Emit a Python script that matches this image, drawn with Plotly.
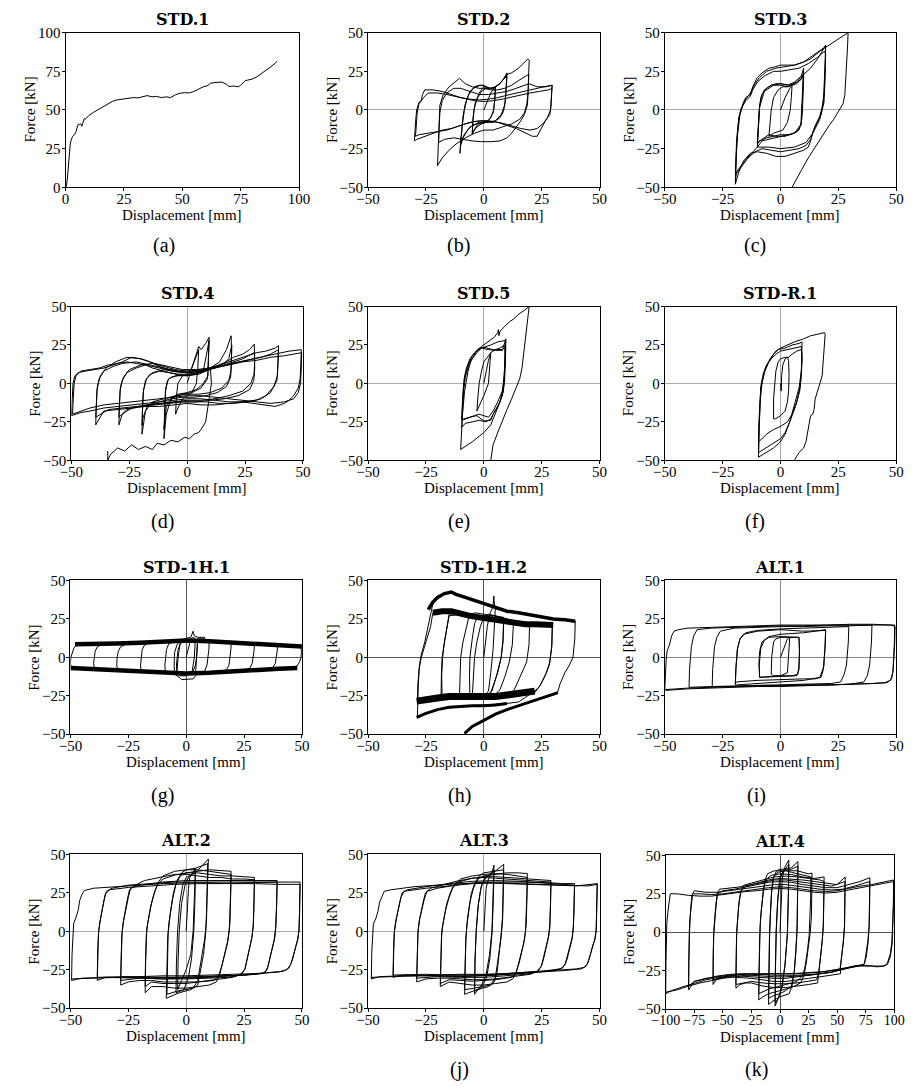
import plotly.graph_objects as go

W, H = 916, 1091

# ---------------- data (displacement [mm], force [kN]) ----------------
std1 = [(0,0),(0.4,1),(0.8,6),(1.2,14),(1.6,22),(2.0,28),(2.5,31),(3,33),(4,34.5),(4.5,36),(5,39),(5.5,41),
        (6,40.5),(6.5,41),(7,39.5),(7.5,43),(8,44.5),(8.5,44),(9,45),(10,46.5),(12,48.5),(15,51),(18,53.5),
        (20,55.5),(22,56.5),(25,57),(27,57.5),(29,58),(31,57.8),(33,58.8),(35,59.3),(37,58.5),(39,58.8),
        (41,58),(43,58.5),(45,58),(47,59.8),(49,60.8),(51,61.2),(53,61),(55,62),(57,63.5),(59,65),(61,65.8),
        (62,67.2),(64,67.8),(66,68.2),(67,68),(69,66.5),(70,65.2),(72,65.5),(74,65),(75,66),(77,69),(78,69.3),
        (80,70),(82,71.5),(85,74.5),(88,78),(90,80.5),(90.5,81.5)]

std2 = [(0,0),(1.5,6),(3,11),(4.5,14),(5,15),(4.8,8),(4.3,0),(3,-5),(1,-8),(-1,-9),(-3,-11),(-4.5,-14),(-5,-16),
        (-4.8,-8),(-4.3,0),(-3,7),(-1,12),(1,14),(3,14),(5,15),(4.7,6),(4,-2),(2,-7),(-1,-8),(-3,-10),(-5,-15),
        (-4.6,-5),(-3.8,4),(-2,11),(0,15),(2,14),(4,14),(5,15),
        (7,17),(8.5,20),(10,24),(9.7,16),(9.3,6),(8.5,-1),(7,-5),(4,-8),(1,-8),(-2,-8),(-5,-10),(-7,-13),(-9,-18),
        (-10,-23),(-10.3,-28),(-10,-20),(-9.3,-10),(-8.5,-1),(-7.5,6),(-6,12),(-4,15),(-2,16),(0,16),(2,14),(4,14),
        (6,16),(8,19),(10,22),(9.6,12),(9,3),(7.5,-3),(5,-7),(1,-8),(-3,-9),(-6,-11),(-8.5,-16),(-10,-22),
        (-9.6,-13),(-9,-4),(-8,4),(-6.5,10),(-4.5,14),(-1.5,16),(1,15),(3,14),(5,15),(7,17),(10,23),
        (12,24),(15,27),(17,30),(19,33),(19.6,32),(19.4,22),(19.1,12),(18.6,4),(17.5,-2),(15.5,-6),(12,-9),(8,-11),
        (4,-13),(0,-13),(-4,-15),(-8,-18),(-12,-22),(-15,-26),(-18,-31),(-20,-36),(-19.8,-28),(-19.6,-18),
        (-19.4,-6),(-19,3),(-17.5,10),(-15,15),(-12.5,18),(-10.5,20.5),(-8,17),(-5,15),(-2,14),(0,14),(3,13),
        (6,13),(9,14),(12,16),(15,19),(18,22),(19.4,23),(19.2,12),(18.8,3),(17.5,-3),(16,-7),(14,-11),(12,-15),
        (10,-18),(7,-20),(3,-20.5),(-1,-20.5),(-5,-20),(-9,-19),(-13,-18),(-17,-19),(-19.5,-21),(-19.3,-12),
        (-19,-2),(-18,6),(-16,11),(-13,14),(-10,14),(-6,12),(-2,10),(2,10),(6,11),(10,12),(14,14),(18,16),
        (19.5,17),(23,15),(27,15),(29.5,16),(29.3,9),(29,2),(28.5,-3),(27,-6),(25.5,-10),(24,-14),(23,-17),
        (21,-17),(18,-15),(14,-12),(10,-10),(6,-8),(2,-7),(-2,-7),(-6,-8),(-10,-10),(-14,-12),(-18,-13),(-22,-15),
        (-26,-17),(-29,-19),(-30,-20),(-29.8,-14),(-29.4,-6),(-29,0),(-28,5),(-27,6),(-26.5,10),(-25.5,13),
        (-22,13),(-18,12),(-14,10),(-10,8),(-6,7),(-2,6.5),(2,7),(6,8),(10,9.5),(14,11),(18,12.5),(22,14),
        (26,15),(29.5,16),(29.3,8),(28.8,0),(27.5,-5),(25.5,-9),(23,-12),(20,-13),(16,-12),(12,-10),(8,-8.5),
        (4,-7.5),(0,-7),(-4,-7.5),(-8,-9),(-12,-11),(-16,-13),(-20,-14),(-24,-15),(-28,-16),(-29.5,-17),
        (-29.3,-10),(-28.8,-2),(-28,4),(-26,8),(-24,11),(-20,11),(-16,10),(-12,8.5),(-8,7),(-4,6),(0,5.5),(4,6),
        (8,7),(12,8.5),(16,10),(20,11),(24,12),(28,13),(29.5,14)]

std3 = [(0,0),(2,8),(4,14),(5,16),(4.7,8),(4.2,0),(3,-8),(1,-13),(-1,-14),(-3,-15),(-5,-17),(-4.6,-8),(-4,0),
        (-3,8),(-1,13),(1,15),(3,15),(5,16),(7,17),(9,20),(10,22),(9.7,10),(9.5,0),(9,-8),(8,-13),(6,-15),(3,-16),
        (0,-17),(-3,-18),(-6,-19),(-8,-20),(-10,-24),(-9.7,-15),(-9.5,-5),(-9,3),(-8,10),(-6,14),(-4,16),(-2,17),
        (0,17),(3,16),(6,18),(9,22),(10,27),(9.6,15),(9.3,0),(8.8,-10),(7,-14),(4,-16),(0,-16),(-3,-17),(-6,-18),
        (-9,-20),(-10,-22),(-9.5,-10),(-9.2,0),(-8.5,8),(-7,13),(-4,16),(0,16),(3,15),(6,17),(9,20),(10,24),
        (9.5,5),(9,-9),(6,-15),(2,-17),(-2,-17),(-5,-16),(-8,-19),(-10,-21),(-9.5,-8),(-9,2),(-7,12),(-3,16),
        (0,17),(4,16),(7,18),(10,23),
        (13,27),(16,33),(18,38),(19.5,42),(19.3,30),(19,15),(18.5,5),(17.5,-3),(16,-8),(14,-14),(13,-20),
        (12,-24),(10,-26),(6,-28),(2,-30),(-2,-30),(-6,-28),(-10,-27),(-13,-28),(-16,-33),(-18,-40),(-19.5,-48),
        (-19.3,-35),(-19,-20),(-18,-5),(-17,0),(-16,5),(-15,8),(-13,10),(-12,15),(-11,18),(-10,21),(-8,24),
        (-5,27),(-2,28),(0,29),(3,29),(6,29),(10,31),(14,35),(18,39),(19.5,41),(19.3,28),(19,12),(18,2),(17,-4),
        (15,-10),(13,-19),(11,-23),(8,-25),(4,-26),(0,-27),(-4,-26),(-8,-25),(-11,-27),(-14,-31),(-17,-37),
        (-19.5,-42),(-19.2,-30),(-18.5,-15),(-17.5,-3),(-16.5,2),(-15,6),(-13,9),(-12,13),(-10,18),(-7,22),
        (-3,25),(0,25),(4,26),(8,27),(12,30),(16,34),(19,38),(19.5,36),(19.2,20),(18.8,5),(17,-6),(14,-15),
        (11,-21),(6,-24),(0,-25),(-5,-24),(-10,-24),(-15,-32),(-19,-40),(-19.5,-46),(-19.2,-35),(-18.8,-20),
        (-18,-5),(-17,1),(-15,7),(-13,11),(-11,17),(-9,21),(-6,25),(-2,27),(2,28),(6,29),(10,31),(13,33),
        (17,38),(21,42),(25,46),(29.2,50),(29,42),(28.5,25),(27.8,10),(27,4),(25,-1),(23,-6),(21,-10),(18,-17),
        (15,-24),(12,-31),(9,-39),(7,-45),(5,-50)]

std4 = [(0,0),(2,10),(4,18),(5,22),(4.6,10),(4,0),(2,-6),(0,-8),(-2,-10),(-4,-16),(-5,-20),(-4.6,-8),(-4,0),
        (-2,5),(0,6),(2,10),(4,20),(5,24),
        (6,22),(8,26),(9.5,30),(9.3,15),(9,5),(7,0),(4,-4),(0,-6),(-4,-7),(-7,-10),(-9,-20),(-10,-36),(-9.7,-20),
        (-9.4,-5),(-8.5,2),(-7,4),(-4,5),(0,5),(4,6),(7,8),(9.5,28),(9.2,12),(8.8,3),(6,-3),(2,-6),(-2,-7),
        (-6,-9),(-9,-15),(-10,-30),(-9.6,-15),(-9.2,-3),(-8,3),(-5,5),(0,5.5),(4,6.5),(8,8),(10,10),
        (14,14),(17,22),(19,31),(19.2,20),(18.9,8),(18,2),(15,-3),(10,-6),(5,-7),(0,-7),(-5,-8),(-10,-10),
        (-15,-12),(-18,-18),(-19,-28),(-19.5,-33),(-19.3,-18),(-19,-6),(-18,2),(-16,6),(-12,8),(-8,7),(-4,6),
        (0,6),(5,7),(10,9),(15,12),(18,16),(19.3,25),(19.1,12),(18.8,4),(17,-2),(13,-6),(8,-8),(3,-9),(-2,-9),
        (-7,-10),(-12,-12),(-17,-14),(-19,-22),(-19.5,-27),(-19.2,-14),(-18.8,-4),(-17.5,3),(-15,7),(-10,9),
        (-5,7.5),(0,7),(6,8),(12,11),(17,14),(20,17),
        (24,19),(27,22),(29,25.5),(29.2,15),(28.9,6),(27.5,0),(24,-5),(18,-8),(12,-10),(6,-11),(0,-11),(-6,-12),
        (-12,-13),(-18,-14),(-24,-16),(-28,-20),(-29.5,-27),(-29.3,-15),(-29,-5),(-28,2),(-26,7),(-22,10),
        (-18,12),(-12,10),(-6,8),(0,7),(6,8),(12,10),(18,13),(24,16),(29,20),(29.2,10),(28.8,2),(27,-4),(22,-8),
        (16,-10),(10,-11),(4,-12),(-2,-12),(-8,-13),(-14,-14),(-20,-15),(-26,-17),(-29.5,-22),(-29.2,-12),
        (-28.8,-2),(-27.5,4),(-25,9),(-20,12),(-15,13),(-10,11),(-5,9),(0,8),(6,9),(12,11),(18,14),(24,17),(30,20),
        (34,21),(38,23),(39.5,24.5),(39.3,15),(39,5),(37.5,-2),(34,-8),(30,-11),(24,-12),(18,-13),(12,-14),
        (6,-14),(0,-13),(-6,-14),(-12,-15),(-18,-15),(-24,-16),(-30,-17),(-36,-18),(-39.5,-27),(-39.3,-15),
        (-39,-5),(-38,3),(-36,8),(-32,11),(-28,13),(-22,14),(-16,12),(-10,10),(-4,8),(2,8),(8,9),(14,11),(20,13),
        (26,15),(32,17),(36,19),(39.5,22),(39.2,12),(38.8,2),(36,-6),(32,-10),(26,-12),(20,-13),(14,-13),
        (8,-12),(2,-12),(-4,-12),(-10,-13),(-16,-14),(-22,-15),(-28,-16),(-34,-17),(-39.5,-22),(-39.2,-12),
        (-38.8,-2),(-37.5,5),(-35,10),(-31,14),(-26,17),(-20,16),(-14,13),(-8,11),(-2,9),(4,9),(10,10),(16,12),
        (22,14),(28,16),(34,18),(40,20),
        (44,21),(47,21.5),(49.3,22),(49.1,12),(48.8,3),(48,-3),(46,-8),(44,-11),(42,-13),(38,-15),(34,-14),
        (30,-13),(24,-12),(18,-12),(12,-11),(6,-10),(0,-10),(-6,-11),(-12,-12),(-18,-13),(-24,-14),(-30,-15),
        (-36,-16),(-42,-18),(-46,-19),(-50,-21),(-49.7,-10),(-49.3,0),(-48.5,5),(-47,7),(-44,8),(-40,9),(-36,10),
        (-32,12),(-28,14),(-24,17),(-20,16),(-16,14),(-12,11),(-8,9),(-4,8),(0,7),(6,8),(12,10),(18,12),(24,14),
        (30,15),(36,17),(42,18),(46,19),(49.5,20),(49.3,10),(49,0),(48,-6),(46,-10),(42,-12),(36,-13),(30,-12),
        (24,-11),(18,-10),(12,-9),(6,-8),(0,-8),(-6,-9),(-12,-10),(-18,-11),(-24,-12),(-30,-13),(-36,-14),
        (-42,-16),(-46,-18),(-49.5,-20),(-49.2,-10),(-48.8,0),(-48,5),(-46,8),(-42,9),
        (-38,10),(-34,12),(-30,13),(-26,14),(-22,13),(-18,12),(-15,10),(-10,8),(-5,6),(0,5),(5,6),(8,8),(10,10),
        (10.5,0),(9,-15),(8,-25),(6,-30),(5,-32),(3,-33),(1,-36),(-1,-35),(-4,-38),(-7,-37),(-10,-40),(-13,-39),
        (-15,-43),(-18,-41),(-21,-43),(-24,-40),(-27,-44),(-30,-42),(-33,-46),(-34.3,-50)]
std4_tail = [(-34.3,-50),(-34.3,-44)]

std5 = [(0,0),(1,8),(2,15),(3,20),(2.5,10),(2,0),(0,-8),(-2,-14),(-3,-18),(-2.5,-8),(-2,0),(-1,8),(0,14),(2,18),
        (3,20),(5,22),(7,23),(9,25),(9.2,15),(8.8,5),(8,-5),(6,-12),(4,-18),(2,-22),(0,-21),(-2,-20),(-4,-21),
        (-6,-22),(-8,-23),(-9.5,-24),(-9.3,-15),(-9,-5),(-8.5,3),(-7.5,10),(-6,16),(-4,20),(-2,23),(0,23.5),
        (2,22.5),(4,22),(6,22),(8,22),(9.5,24),(9.3,12),(9,2),(8,-8),(6,-15),(4,-20),(3,-24),(0,-24.5),(-3,-21),
        (-5,-21.5),(-7,-22.5),(-9.5,-23.5),(-9.2,-12),(-8.8,-2),(-8,6),(-6.5,13),(-5,18),(-3,21),(-1,23),(2,22),
        (5,21.5),(8,21.5),(9.5,29),(9.3,20),(9,5),(8.5,-5),(7,-12),(5,-18),(3,-23),(1,-25),(-2,-24),(-5,-25),
        (-8,-26),(-9.5,-28.5),(-9.2,-18),(-8.8,-6),(-8,4),(-6.5,12),(-5,16),(-3,20),(-1,23),(1,24),(3,25),
        (6,27),(9.5,28),(9.2,15),(8.8,0),(7,-12),(5,-20),(3,-27),(0,-32),(-5,-38),(-10,-43),(-9.6,-30),
        (-9.2,-20),(-8.3,-5),(-6.8,8),(-5.5,15),(-3.5,20),(-1,24),(2,27),(4.5,30),(6,33),(6.3,35),(6.5,31),
        (7,34),(9,37),(11,40),(13,42),(15,45),(17,47),(19,49.5),(19.6,50),(19.2,45),(18.5,35),(17.5,20),
        (16.5,10),(15.5,3),(14,-3),(12,-10),(10,-17),(8,-24),(6,-32),(4,-40),(3,-50)]

stdr1 = [(0,0),(0.3,-5),(0.5,5),(1,12),(2,16),(3,17),(3.5,15),(3.7,5),(3.5,-5),(3,-12),(2,-18),(0,-21),(-2,-23),
         (-3,-23),(-3,-10),(-2.5,0),(-2,8),(-1,14),(0,16),(2,17),(3.5,17),(5,19),(7,21),(9,22),(9.3,18),(9,8),
         (8.5,-2),(7,-12),(5,-20),(3,-25),(0,-28),(-3,-30),(-6,-33),(-8,-36),(-9.5,-38),(-9.3,-25),(-9,-12),
         (-8.5,-2),(-7.5,6),(-6,12),(-4,16),(-2,19),(0,21),(3,22),(6,23),(9,24),(9.3,15),(9,5),(8.3,-5),
         (6.5,-15),(4,-25),(2,-32),(0,-36),(-3,-39),(-6,-42),(-8,-44),(-9.5,-45),(-9.3,-30),(-9,-15),(-8.5,-3),
         (-7,7),(-5,14),(-3,19),(-1,22),(2,23),(5,25),(8,26),(9.3,27),(9.2,18),(9,8),(8,-3),(6,-15),(4,-25),
         (2,-33),(0,-38),(-3,-42),(-6,-45),(-9.5,-48),(-9.2,-30),(-8.8,-12),(-8,0),(-6.5,10),(-4.5,16),(-2,21),
         (0,23),(3,25),(6,27),(10,29),(13,31),(16,32),(19,33),(19.3,32),(19,25),(18.5,15),(18,5),(17,0),(16,-5),
         (15,-10),(14.5,-17),(14,-20),(13,-21),(12.5,-25),(12,-30),(11,-38),(10,-42),(8,-45),(6,-50)]

std1h1_top = [(-48,8.5),(-44,8.5),(-38,8.5),(-30,9),(-20,9.5),(-10,10.5),(0,11),(10,10.5),(20,9.5),(30,8.5),
              (40,7.5),(50,7)]
std1h1_bot = [(-50,-7),(-44,-7.5),(-38,-8),(-30,-8.5),(-20,-9),(-10,-10),(0,-10.5),(10,-10),(20,-9),(30,-8.5),
              (40,-7.5),(48,-7)]
std1h1 = [(0,0),(1,6),(2,12),(3,13),(4,12),(3.5,0),(2.5,-10),(0,-12),(-3,-12),(-4,-10),(-3.5,0),(-2.5,10),(-1,12),
          (2,13),(3,17),(3.5,14),(5,13),(8,13),(8,12),(5,12),(4.5,0),(4,-12),(3,-14),(-2,-14.5),(-3,-13),(-5,-11),
          (-5.2,-5),(-5,3),(-4,8),(-2.5,11),(0,11),(3,11),(5,12),(4.8,5),(4.5,0),(4,-5),(3,-9),(0,-10),(-3,-10),
          (-4,-10),(-4.2,-5),(-4,0),(-3.5,5),(-2.5,9),(0,11),(3,11),(8,11),(10,11),(9.8,5),(9.5,0),(9,-5),(8,-9),
          (5,-10),(0,-10.5),(-5,-10),(-9,-10),(-9.2,-5),(-9,0),(-8.5,5),(-7.5,9),(-5,10),(0,11),(5,11),(10,10.5),
          (15,10),(19.5,10),(19.3,5),(19,0),(18.5,-5),(17.5,-8),(15,-9.5),(10,-10),(5,-10.5),(0,-10.5),(-5,-10),
          (-10,-10),(-15,-9.5),(-19.5,-9),(-19.7,-5),(-19.5,0),(-19,5),(-18,8),(-16,9.5),(-10,10),(0,11),
          (10,10.5),(20,9.5),(25,9),(29.5,8.5),(29.3,4),(29,0),(28.5,-4),(27.5,-7),(25,-8.5),(20,-9),(10,-10),
          (0,-10.5),(-10,-10),(-20,-9),(-29.5,-8.5),(-30,-5),(-29.8,0),(-29.3,4),(-28.3,7),(-26,8.5),(-20,9),
          (-10,10),(0,11),(10,10.5),(20,9.5),(30,8.5),(35,8),(39.5,7.5),(39.3,4),(39,0),(38.5,-4),(37.5,-6.5),
          (35,-7.5),(30,-8),(20,-9),(10,-10),(0,-10.5),(-10,-10),(-20,-9),(-30,-8.5),(-39.5,-8),(-40,-4),
          (-39.8,0),(-39.3,4),(-38.3,7),(-36,8.5),(-30,9),(-20,9.5),(-10,10.5),(0,11),(10,10.5),(20,9.5),(30,8.5),
          (40,7.5),(45,7),(49.5,7),(49.8,4),(49.6,0),(49,-3),(48,-5.5),(46,-6.5),(40,-7.5),(30,-8),(20,-9),
          (10,-10),(0,-10.5),(-10,-10),(-20,-9),(-30,-8.5),(-40,-8),(-49.5,-7),(-50,-4),(-49.8,0),(-49.3,3),
          (-48.5,6),(-47.5,8)]

std1h2_top1 = [(-24,31),(-22,36),(-20,39),(-17,41.5),(-14,42.5),(-12,41),(-8,39),(-4,37),(0,35),(5,32),(10,30),
               (15,29),(20,27.5),(25,26),(30,25),(35,24.5),(39.5,23.5)]
std1h2_top2 = [(-22,29),(-18,30),(-14,30),(-10,28),(-6,27),(-2,26),(2,25),(6,24),(10,23),(14,22),(18,21.5),
               (22,21.5),(26,21),(30,21)]
std1h2_bot1 = [(-29,-28.5),(-25,-28),(-20,-26.5),(-15,-25.5),(-10,-25.5),(-5,-26),(0,-26),(5,-25.5),(10,-24.5),
               (15,-23.5),(20,-22.5),(22,-22)]
std1h2_bot2 = [(-29,-39),(-25,-36.5),(-20,-34),(-15,-32.5),(-10,-32),(-5,-31.5),(0,-31.5),(5,-31),(10,-30)]
std1h2_bot3 = [(-8.3,-49.5),(-5,-45),(0,-41),(5,-37),(10,-34),(15,-31.5),(20,-29),(25,-27),(30,-24.5),(32,-23)]
std1h2 = [(0,0),(0.8,10),(1.5,20),(2.5,28),(4,33),(4.3,40),(4.6,34),(5,33),(4.5,20),(4,5),(3,-10),(2,-22),
          (0,-25),(-3,-26),(-5,-26),(-4.5,-10),(-4,0),(-3,10),(-1.5,20),(0,26),(2,28),(5,27),(8.6,25),(8.3,10),
          (7.5,0),(6,-10),(4,-18),(3,-23),(0,-25),(-5,-25.5),(-10.5,-25),(-10.3,-12),(-10,0),(-9,10),(-7.5,20),
          (-6.5,26),(-4,29),(0,28),(4,27),(8.6,26),(8.3,12),(7.5,0),(5.5,-12),(3.5,-22),(0,-26),(-6,-26),
          (-6.2,-12),(-6,0),(-5,12),(-4,22),(-2.5,27),(5,27),(10,25),(15,23),(19.8,22),(19.5,8),(18.5,-3),
          (16,-12),(13.5,-20),(12,-24),(5,-25),(0,-25.5),(-5,-25),(-10,-25),(-15,-26),(-18.5,-26),(-18.3,-10),
          (-18,0),(-17,10),(-16,20),(-15,28),(-12,29),(-6,27),(0,26),(6,24),(12.8,22),(12.3,8),(11,-3),(9,-13),
          (7,-21),(5,-24),(0,-25),(-10,-25),(-18,-25),(-18.2,-12),(-17.8,0),(-17,10),(-16,19),(-15,27),(-10,28),
          (0,26),(10,23),(20,22),(29.6,21),(29.4,8),(28.5,-3),(27,-10),(24.5,-18),(22,-23),(15,-23),(10,-24),
          (0,-25.5),(-10,-25),(-20,-26),(-28,-29),(-28.7,-30),(-28.5,-18),(-28,-8),(-27,0),(-26,5),(-24.5,12),
          (-23,20),(-22,29),(-20,31),(-15,30),(-10,28),(0,26),(10,23),(20,22),(29.6,22),(29.3,6),(28.3,-5),
          (26.5,-12),(24,-19),(22,-22),(15,-29),(10,-30),(0,-31),(-10,-32),(-15,-32.5),(-20,-34),(-25,-36.5),
          (-28.7,-39.5),(-28.6,-30),(-28.3,-18),(-27.8,-5),(-27,2),(-25.5,10),(-24,20),(-23,28),(-22,35),
          (-20,39),(-17,41.5),(-14,42.5),(-12,41),(-5,37.5),(0,35),(10,30),(20,27.5),(30,25),(39.5,23.5),
          (39.3,12),(38.5,0),(37,-5),(35,-10),(33,-17),(32,-22),(31,-24),(30,-24.5),(20,-29),(10,-34),(5,-37),
          (0,-41),(-5,-45),(-8.3,-49.5)]

alt1 = [(0,0),(2,8),(3,12),(4,13),(3.5,0),(3,-10),(0,-12),(-3,-12),(-4,-11),(-3.8,0),(-3,10),(-2,12),(0,13),(4,13),
        (6,13),(8,13),(8.2,5),(8,-5),(7.5,-11),(5,-12),(0,-12),(-5,-12.5),(-9,-13),(-9.2,-5),(-9,0),(-8.5,6),
        (-7,11),(-5,13),(0,13.5),(5,13),(8,13),(8.2,3),(8,-8),(7,-12),(0,-12.5),(-9,-13),(-9.3,-4),(-9,4),(-8,10),
        (-5,13.5),(0,15),(10,16),(15,17),(19.5,18),(19.3,8),(19,0),(18.5,-8),(17.5,-13),(15,-14),(10,-14),
        (0,-14.5),(-10,-15),(-19,-16),(-19.5,-17),(-19.3,-8),(-19,0),(-18.5,6),(-17.5,12),(-16,15),(-10,17),
        (0,18),(10,17),(19.5,17.5),(19.2,5),(18.7,-6),(17,-13),(10,-15),(0,-16),(-10,-17),(-19.5,-18),(-19.2,-6),
        (-18.7,5),(-17.5,12),(-15,16),(-10,17.5),(0,18.5),(10,19),(20,19.5),(29.5,20),(29.3,10),(29,2),
        (28.5,-5),(27.5,-11),(26,-16),(22,-17),(10,-17.5),(0,-18),(-10,-18),(-20,-18.5),(-29.5,-19),(-29.3,-8),
        (-29,0),(-28.5,7),(-27.5,13),(-26,17),(-20,19),(-10,19.5),(0,20),(10,20),(20,20.5),(30,20.5),(39.5,21),
        (39.3,10),(39,2),(38.5,-5),(37.5,-12),(36,-16),(30,-17.5),(20,-18),(10,-18),(0,-18.5),(-10,-18.5),
        (-20,-19),(-30,-19),(-39.5,-19.5),(-39.3,-8),(-39,0),(-38.5,7),(-37.5,14),(-36,18),(-30,19),(-20,19.5),
        (-10,20),(0,20.5),(10,20.5),(20,21),(30,21),(40,21),(49.3,21),(49.2,10),(49,0),(48.7,-8),(48,-14),
        (46,-16.5),(40,-17),(30,-17.5),(20,-18),(10,-18),(0,-18.5),(-10,-18.5),(-20,-19),(-30,-19.5),(-40,-20),
        (-50,-21),(-49.7,-10),(-49.4,-2),(-49,4),(-48,8),(-47,14),(-46,17),(-44,18),(-40,19),(-30,19.5),
        (-20,20),(-10,20.5),(0,21),(10,21),(20,21),(30,21.5),(40,21.5),(48,21),(49.5,20),(49.3,8),(49,-2),
        (48.5,-10),(47.5,-15),(45,-16.5),(40,-17),(30,-17.5),(20,-18),(10,-18.5),(0,-19),(-10,-19),(-20,-19.5),
        (-30,-20),(-40,-20.5),(-49.5,-21.5)]

alt2 = [(0,0),(0.5,15),(1,28),(1.5,35),(3,38),(4,41),(3.6,20),(3,0),(2,-15),(0,-25),(-2,-32),(-3.7,-38),
        (-3.5,-20),(-3,0),(-2,18),(-0.5,30),(1,35),(4,40),(3.8,20),(3.3,0),(2.3,-18),(1,-30),(-1,-38),(-4.4,-40),
        (-4.2,-20),(-3.7,0),(-2.8,18),(-1.5,30),(0,35),(4,38),(9.6,47),(9.3,30),(9,10),(8.5,0),(7.5,-15),(6,-28),
        (5,-35),(2,-38),(-3,-40),(-8.6,-43.6),(-8.3,-25),(-8,-5),(-7.5,5),(-6.5,15),(-5.5,25),(-4,33),(-2,38),
        (0,40),(4,41),(9.3,44),(9.1,28),(8.8,8),(8,-5),(6.5,-20),(5,-32),(3,-37),(0,-38),(-4,-39),(-8.3,-41),
        (-8.1,-20),(-7.8,-2),(-7,10),(-6,20),(-4.5,30),(-2.5,36),(0,38),(5,39),(10,40),(15,39.5),(19.4,39),
        (19.2,25),(19,8),(18.6,0),(17.8,-8),(16.5,-15),(15.5,-22),(14.5,-28),(13,-33),(10,-35),(5,-36),(0,-37),
        (-5,-37),(-10,-36),(-15,-36),(-17.7,-40),(-17.6,-22),(-17.3,-5),(-17,2),(-16,10),(-15,18),(-13.5,26),
        (-12,32),(-10,36),(-5,39),(0,40),(5,40),(10,39),(15,38),(19.4,37),(19.2,22),(18.9,5),(18,-6),(16.8,-14),
        (15.5,-22),(14,-29),(12,-32),(5,-33),(0,-34),(-5,-34),(-10,-34),(-15,-33),(-17.7,-36),(-17.5,-18),
        (-17.2,-2),(-16.5,6),(-15.5,15),(-14,24),(-12.5,30),(-10,34),(-5,36.5),(0,38),(5,38),(10,37),(15,36),
        (20,36),(25,35.5),(29.5,35),(29.3,20),(29,5),(28.5,-3),(27.5,-10),(26.5,-17),(25.5,-24),(24,-28),
        (20,-30),(15,-31),(10,-32),(5,-33),(0,-33),(-5,-33),(-10,-33),(-15,-32),(-20,-32),(-25,-33),(-28.3,-35),
        (-28.1,-18),(-27.8,-3),(-27.3,5),(-26.5,13),(-25.5,20),(-24.5,27),(-22,30),(-18,33),(-12,35),(-5,37),
        (0,37),(5,36),(10,35),(15,35),(20,34),(25,34),(29.5,33.5),(29.3,18),(29,3),(28.3,-5),(27.3,-12),
        (26.3,-19),(25.3,-25),(23,-28.5),(18,-30),(10,-30.5),(0,-31),(-10,-31),(-20,-30.5),(-28.3,-32),
        (-28.1,-15),(-27.7,-1),(-27,7),(-26,15),(-25,22),(-24,28),(-20,30),(-10,32),(0,33),(10,33),(20,33),
        (30,33),(35,33),(39.3,33),(39.1,18),(38.8,4),(38.3,-4),(37.3,-11),(36.3,-18),(35.3,-23),(34,-27),
        (30,-28),(20,-29),(10,-30),(0,-30.5),(-10,-31),(-20,-30.5),(-30,-30),(-35,-30),(-38.4,-32),(-38.2,-15),
        (-37.9,-2),(-37.3,6),(-36.5,13),(-35.5,20),(-34.5,26),(-32,28),(-25,30),(-15,31),(-5,32),(5,32),(15,32),
        (25,32),(35,32),(39.3,32),(39,15),(38.6,2),(38,-6),(37,-13),(36,-20),(35,-25),(33,-27.5),(25,-28.5),
        (15,-29),(5,-30),(-5,-30),(-15,-30),(-25,-29.5),(-38.4,-30),(-38.2,-12),(-37.8,0),(-37,8),(-36,16),
        (-35,24),(-33,27),(-25,28.5),(-15,29.5),(-5,30.5),(5,31),(15,31),(25,31.5),(35,32),(40,32),(45,32),
        (49.2,32),(49,15),(48.8,2),(48.3,-5),(47.3,-10),(46.3,-16),(45.3,-21),(44.3,-24),(42,-26),(35,-27),
        (25,-28.5),(15,-29),(5,-29.5),(-5,-30),(-15,-30),(-25,-30),(-35,-30),(-45,-30.5),(-49.5,-32),
        (-49.3,-15),(-49,-2),(-48.6,5),(-47.6,9),(-46.6,14),(-46,20),(-45,24),(-44,26.5),(-40,28),(-30,29),
        (-20,30),(-10,31),(0,31.5),(10,31.5),(20,31),(30,31),(40,30.5),(49.2,30.5),(49,12),(48.7,0),(48,-6),
        (47,-12),(46,-18),(45,-22),(43.5,-25),(40,-26.5),(30,-27.5),(20,-28),(10,-28.5),(0,-29),(-10,-29),
        (-20,-29.5),(-30,-30),(-40,-30.5),(-49.5,-31)]

alt3 = [(0,0),(0.5,15),(1,28),(2,34),(3.5,38),(4.4,43),(4.1,22),(3.5,0),(2.5,-15),(1,-28),(-1,-35),(-4,-41),
        (-3.8,-20),(-3.3,0),(-2.3,18),(-1,30),(1,35),(4.4,40),(4.1,20),(3.6,0),(2.6,-18),(1.2,-30),(-1,-37),
        (-4,-39),(-3.8,-18),(-3.3,0),(-2.5,16),(-1.3,28),(0.5,35),(4,38),(8.6,43.5),(8.4,28),(8.1,10),(7.6,0),
        (6.8,-14),(5.8,-26),(4.5,-33),(2,-36),(-3,-38),(-8.3,-41),(-8.1,-24),(-7.8,-6),(-7.3,4),(-6.5,14),
        (-5.5,24),(-4,31),(-2,36),(0,38),(4,39),(8.6,40),(8.4,25),(8.1,7),(7.4,-5),(6.3,-18),(5,-30),(3,-35),
        (0,-36),(-4,-37),(-8.3,-38),(-8.1,-20),(-7.7,-3),(-7,9),(-6,19),(-4.5,28),(-2.5,34),(0,36),(5,37),
        (10,38),(15,38),(18.8,37.5),(18.6,24),(18.4,8),(18,0),(17.2,-8),(16,-15),(15,-22),(14,-27),(12.5,-31),
        (10,-33),(5,-34),(0,-35),(-5,-35),(-10,-34),(-15,-33),(-18.8,-36),(-18.6,-20),(-18.3,-4),(-18,2),
        (-17,10),(-16,18),(-14.5,25),(-13,30),(-10,34),(-5,36),(0,37),(5,37.5),(10,37),(15,36),(18.8,35),
        (18.6,20),(18.3,4),(17.5,-6),(16.4,-14),(15.2,-21),(13.8,-27),(12,-30),(5,-31.5),(0,-32),(-5,-32.5),
        (-10,-32),(-15,-31.5),(-18.8,-34),(-18.6,-16),(-18.2,-2),(-17.5,6),(-16.5,14),(-15,22),(-13.5,28),
        (-11,32),(-5,34.5),(0,35.5),(5,35.5),(10,35),(15,34.5),(20,34),(25,33.5),(29,33),(28.8,18),(28.5,4),
        (28,-3),(27,-10),(26,-16),(25,-22),(23.5,-26),(20,-28),(15,-29),(10,-30),(5,-31),(0,-31.5),(-5,-31.5),
        (-10,-31),(-15,-30.5),(-20,-30.5),(-25,-31),(-29,-33),(-28.8,-16),(-28.5,-2),(-28,6),(-27.2,13),
        (-26.2,19),(-25.2,25),(-23,28),(-18,30),(-12,32.5),(-5,34.5),(0,35),(5,34.5),(10,34),(15,33.5),(20,33),
        (25,32.5),(29,32),(28.8,16),(28.5,2),(27.8,-5),(26.8,-12),(25.8,-18),(24.8,-23),(22.5,-26.5),(18,-28),
        (10,-29),(0,-30),(-10,-30),(-20,-29.5),(-29,-30.5),(-28.8,-14),(-28.4,0),(-27.7,8),(-26.7,15),
        (-25.7,21),(-24.5,26),(-20,28),(-10,30.5),(0,32),(10,32),(20,32),(29,31.5),(34,31),(39.2,31),(39,16),
        (38.7,3),(38.2,-4),(37.2,-10),(36.2,-16),(35.2,-21),(34,-24),(30,-25.5),(20,-27),(10,-28),(0,-29),
        (-10,-29.5),(-20,-29),(-30,-28.5),(-35,-28.5),(-39.2,-30),(-39,-14),(-38.7,-1),(-38.1,6),(-37.3,13),
        (-36.3,19),(-35.3,25),(-33,27),(-25,29),(-15,31),(-5,32.5),(5,33),(15,32.5),(25,31.5),(35,30.5),
        (39.2,30),(39,14),(38.6,1),(38,-6),(37,-12),(36,-18),(35,-22),(33,-24.5),(25,-26),(15,-27),(5,-28),
        (-5,-28.5),(-15,-28.5),(-25,-28),(-39.2,-28.5),(-39,-12),(-38.6,0),(-37.8,8),(-36.8,15),(-35.8,22),
        (-34.5,26),(-25,28),(-15,29.5),(-5,31),(5,31.5),(15,31),(25,30.5),(35,30),(40,29.5),(45,29.5),
        (49,30.5),(48.8,14),(48.6,2),(48.1,-5),(47.1,-9),(46.1,-15),(45.1,-20),(44,-23),(42,-24.5),(35,-25.5),
        (25,-26.5),(15,-27.5),(5,-28.5),(-5,-29),(-15,-29),(-25,-29),(-35,-29),(-45,-29.5),(-48.6,-31),
        (-48.4,-14),(-48.1,-2),(-47.7,5),(-46.7,8),(-45.7,13),(-45,19),(-44,23),(-43,26),(-40,27),(-30,29),
        (-20,30),(-10,31),(0,31.5),(10,31),(20,30.5),(30,30),(40,29.5),(49,31),(48.8,12),(48.5,0),(47.8,-6),
        (46.8,-11),(45.8,-17),(44.8,-21),(43.3,-23.5),(40,-24.5),(30,-25.5),(20,-26.5),(10,-27.5),(0,-28),
        (-10,-28),(-20,-28.5),(-30,-29),(-40,-29.5),(-48.6,-30)]

alt4 = [(0,0),(1,20),(2,35),(4,42),(7.7,47),(7.3,25),(6.5,0),(4.5,-20),(2,-35),(-1,-42),(-4.3,-48),(-4,-25),
        (-3.3,0),(-2,20),(0,35),(3,40),(7.7,44),(7.3,22),(6.4,-2),(4.3,-22),(1.5,-36),(-1.5,-43),(-4.3,-46),
        (-4,-22),(-3.3,2),(-2,22),(0,36),(4,41),(10,42),(15.7,46),(15.4,25),(15,5),(14,-10),(12.5,-25),
        (10.5,-35),(8,-40),(0,-42),(-5,-44),(-10,-47),(-9.7,-25),(-9.2,-5),(-8.5,10),(-7.5,25),(-6,35),(-3,40),
        (0,41),(5,41),(10,41),(15.7,43),(15.4,22),(15,2),(14,-12),(12.5,-26),(10,-35),(5,-38),(0,-40),(-5,-41),
        (-10,-43),(-9.7,-22),(-9.2,-2),(-8.4,12),(-7.3,27),(-5.5,36),(-2,39),(5,40),(15,40),(20,39),(25,38),
        (28,38.5),(28,25),(27.5,10),(26.5,0),(25,-10),(23,-20),(21,-28),(18,-33),(10,-36),(0,-38),(-10,-40),
        (-15,-42),(-18.6,-44),(-18.3,-25),(-18,-8),(-17.3,5),(-16.3,15),(-15,25),(-13.5,33),(-11,38),(-5,40),
        (0,40),(5,40),(10,39),(15,38),(20,37),(27,36),(26.8,22),(26.3,8),(25.5,-2),(24,-12),(22,-22),(20,-28),
        (15,-32),(5,-34),(0,-35),(-5,-36),(-10,-37),(-18.6,-40),(-18.3,-20),(-17.8,-3),(-17,9),(-16,19),
        (-14.5,28),(-12.5,34),(-8,37),(0,38),(10,37.5),(20,36),(30,35),(35,35.5),(38.6,36),(38.3,20),(38,5),
        (37,-5),(35.5,-15),(34,-25),(32.9,-33),(25,-34),(15,-35),(5,-36),(-5,-36),(-15,-35),(-25,-33),(-30,-33),
        (-35,-34),(-38.6,-36.4),(-38.4,-18),(-38,-2),(-37,8),(-36,18),(-34.5,26),(-32,30.5),(-25,32),(-15,34),
        (-5,36),(5,36.5),(15,36),(25,35),(35,34),(38.6,33),(38.3,17),(37.8,3),(36.8,-7),(35.3,-17),(34,-26),
        (32,-31),(25,-32),(15,-33),(5,-33.5),(-5,-33.5),(-15,-33),(-25,-32),(-38.6,-34),(-38.4,-15),(-37.9,0),
        (-37,10),(-35.8,20),(-34,27),(-30,30),(-20,32),(-10,34),(0,35),(10,34.5),(20,34),(30,33),(40,32),(50,31),
        (57,36),(56.8,20),(56.5,5),(55.5,-5),(54,-15),(53,-22),(53,-27),(45,-28),(35,-29),(25,-30),(15,-31),
        (5,-32),(-5,-32),(-15,-31),(-25,-30),(-35,-29.5),(-45,-29),(-55,-30),(-58.6,-34),(-58.4,-16),(-58,-2),
        (-57,8),(-56,18),(-55,25),(-53,28),(-45,28.5),(-35,29.5),(-25,31),(-15,32.5),(-5,34),(5,34),(15,33),
        (25,32),(35,31),(45,30),(57,33),(56.8,17),(56.4,3),(55.4,-7),(54,-17),(52.5,-24),(45,-26),(35,-27),
        (25,-28),(15,-29),(5,-30),(-5,-30),(-15,-29.5),(-25,-29),(-35,-28.5),(-45,-28.5),(-58.6,-31),
        (-58.4,-13),(-58,0),(-57,10),(-56,19),(-54.5,25),(-50,27),(-40,28),(-30,29.5),(-20,31),(-10,32.5),
        (0,33),(10,32.5),(20,31),(30,30),(40,29),(50,29),(60,31),(70,33),(78.6,35.5),(78.4,20),(78,5),(77,-5),
        (75.5,-14),(74,-20),(73,-21),(65,-22),(55,-24),(45,-26),(35,-27),(25,-28),(15,-28.5),(5,-29),(-5,-29),
        (-15,-28.5),(-25,-28),(-35,-27.5),(-45,-28),(-55,-29),(-65,-30),(-75,-32),(-80,-37.5),(-79.8,-18),
        (-79.5,-3),(-78.8,8),(-78,17),(-77,24),(-75,27),(-65,26),(-55,26),(-45,27),(-35,28),(-25,29),(-15,30),
        (-5,31),(5,31),(15,30),(25,29),(35,28),(45,27.5),(55,28),(65,30),(78.6,33),(78.4,17),(78,3),(77,-7),
        (75.5,-16),(73.5,-21),(65,-22.5),(55,-24.5),(45,-26),(35,-27),(25,-27.5),(15,-28),(5,-28),(-5,-28),
        (-15,-27.5),(-25,-27),(-35,-27),(-45,-27.5),(-55,-28.5),(-65,-30),(-75,-32),(-80,-35),(-79.8,-15),
        (-79.4,0),(-78.6,10),(-77.6,19),(-76.5,25),(-70,25),(-60,24.5),(-50,25),(-40,26),(-30,27),(-20,28),
        (-10,29),(0,29.5),(10,29),(20,28),(30,27),(40,26.5),(50,27),(60,28.5),(70,30),(80,31),(90,32.5),
        (99.4,34),(99.2,18),(98.8,3),(98,-6),(96.5,-14),(94,-20),(91.4,-22),(85,-22.5),(75,-21.5),(65,-22),
        (55,-23.5),(45,-25),(35,-26),(25,-26.5),(15,-27),(5,-27),(-5,-27),(-15,-27),(-25,-27),(-35,-27.5),
        (-45,-28.5),(-55,-29.5),(-65,-31),(-75,-33),(-85,-35.5),(-95,-38),(-100,-40),(-99.8,-20),(-99.5,-4),
        (-99,6),(-98,14),(-97,21),(-96,25),(-90,25),(-80,24),(-70,23.5),(-60,23.5),(-50,24.5),(-40,25.5),
        (-30,26.5),(-20,27),(-10,28),(0,28.5),(10,28),(20,27),(30,26),(40,25.5),(50,26),(60,27.5),(70,29),
        (80,30.5),(90,32),(99.4,33),(99.2,16),(98.8,1),(98,-8),(96.5,-16),(94,-21),(90,-22),(80,-22),(70,-22),
        (60,-23),(50,-24.5),(40,-25.5),(30,-26),(20,-26.5),(10,-27),(0,-27),(-10,-27),(-20,-27.5),(-30,-28),
        (-40,-29),(-50,-30),(-60,-31.5),(-70,-33),(-80,-35),(-90,-37.5),(-100,-39)]

titles = ['STD.1', 'STD.2', 'STD.3', 'STD.4', 'STD.5', 'STD-R.1',
          'STD-1H.1', 'STD-1H.2', 'ALT.1', 'ALT.2', 'ALT.3', 'ALT.4']
ticks50 = [-50, -25, 0, 25, 50]
ticks100 = [0, 25, 50, 75, 100]
ticks_alt4 = [-100, -75, -50, -25, 0, 25, 50, 75, 100]

# ---------------- layout geometry (pixels) ----------------
# (left, right, top, bottom)
boxes = [(53, 293, 25, 182), (364, 602, 25, 182), (669, 907, 25, 182),
         (59, 297, 303, 459), (364, 602, 303, 459), (669, 907, 303, 459),
         (58, 296, 581, 737), (364, 602, 581, 737), (669, 907, 581, 737),
         (58, 296, 859, 1015), (364, 602, 859, 1015), (670, 905, 860, 1016)]
sublabels = [('(a)', 154, 241), ('(b)', 457, 241), ('(c)', 762, 241),
             ('(d)', 153, 521), ('(e)', 457, 521), ('(f)', 762, 521),
             ('(g)', 153, 799), ('(h)', 458, 799), ('(i)', 763, 799),
             ('(j)', 458, 1077), ('(k)', 763, 1077)]

SERIF = 'Liberation Serif, Times New Roman, serif'
fig = go.Figure()


def add(idx, pts, width=1.0):
    xs = [p[0] for p in pts]
    ys = [p[1] for p in pts]
    fig.add_trace(go.Scatter(x=xs, y=ys, mode='lines', line=dict(color='black', width=width),
                             xaxis=f'x{idx}', yaxis=f'y{idx}', showlegend=False, hoverinfo='skip'))


add(1, std1)
add(2, std2)
add(3, std3)
add(4, std4)
add(4, std4_tail)
add(5, std5)
add(6, stdr1)
add(7, std1h1_top, 4.5)
add(7, std1h1_bot, 4.5)
add(7, std1h1)
add(8, std1h2_top1, 3.5)
add(8, std1h2_top2, 6)
add(8, std1h2_bot1, 7)
add(8, std1h2_bot2, 3)
add(8, std1h2_bot3, 3)
add(8, std1h2)
add(9, alt1)
add(10, alt2)
add(11, alt3)
add(12, alt4)

zero_colors = ['#aaaaaa'] * 6 + ['#555555', '#555555', '#888888', '#aaaaaa', '#aaaaaa', '#555555']
annotations = []
for i, (l, r, t, b) in enumerate(boxes):
    k = i + 1
    xsize = 15
    if i == 0:
        xr, yr, xt, yt = [0, 100], [0, 100], ticks100, ticks100
    elif i == 11:
        xr, yr, xt, yt = [-100, 100], [-50, 50], ticks_alt4, ticks50
        xsize = 14
    else:
        xr, yr, xt, yt = [-50, 50], [-50, 50], ticks50, ticks50
    common = dict(showline=True, linecolor='black', linewidth=1, mirror=True, ticks='outside', ticklen=3,
                  tickwidth=1, tickcolor='black', showgrid=False, zeroline=(i != 0),
                  zerolinecolor=zero_colors[i], zerolinewidth=1, fixedrange=True)
    fig.layout[f'xaxis{k}'] = dict(domain=[l / W, r / W], range=xr, tickvals=xt, anchor=f'y{k}',
                                   tickangle=0, ticklabelstandoff=-5,
                                   tickfont=dict(family=SERIF, size=xsize, color='black'), **common)
    fig.layout[f'yaxis{k}'] = dict(domain=[1 - b / H, 1 - t / H], range=yr, tickvals=yt, anchor=f'x{k}',
                                   ticklabelstandoff=-2,
                                   tickfont=dict(family=SERIF, size=15, color='black'), **common)
    cx = (l + r) / 2
    annotations.append(dict(text=f'<b>{titles[i]}</b>', x=cx / W, y=1 - (t - 2) / H, xref='paper', yref='paper',
                            xanchor='center', yanchor='bottom', showarrow=False,
                            font=dict(family='DejaVu Serif, serif', size=16, color='black')))
    annotations.append(dict(text='Displacement [mm]', x=cx / W, y=1 - (b + 28) / H, xref='paper',
                            yref='paper', xanchor='center', yanchor='middle', showarrow=False,
                            font=dict(family=SERIF, size=15, color='black')))
    annotations.append(dict(text='Force [kN]', x=(l - 37) / W, y=1 - ((t + b) / 2) / H, xref='paper',
                            yref='paper', xanchor='center', yanchor='middle', showarrow=False, textangle=-90,
                            font=dict(family=SERIF, size=15, color='black')))

for txt, x, y in sublabels:
    annotations.append(dict(text=txt, x=x / W, y=1 - y / H, xref='paper', yref='paper', xanchor='center',
                            yanchor='middle', showarrow=False, font=dict(family=SERIF, size=20, color='black')))

fig.update_layout(width=W, height=H, autosize=False, margin=dict(l=0, r=0, t=0, b=0),
                  paper_bgcolor='white', plot_bgcolor='white', annotations=annotations)

fig.write_html('out.html')
